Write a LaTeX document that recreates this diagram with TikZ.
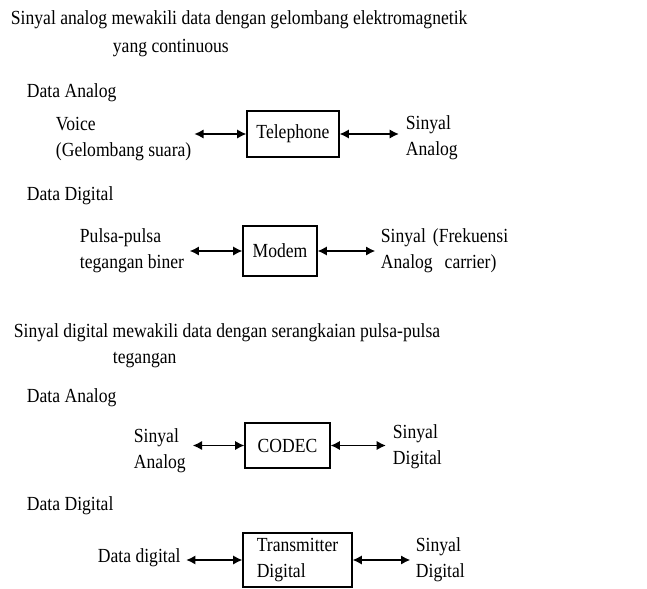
\documentclass[tikz,border=0pt]{standalone}
\usepackage{fontspec}
\setmainfont[FakeStretch=0.88]{Liberation Serif}
\usetikzlibrary{arrows.meta}

\begin{document}
\begin{tikzpicture}[x=0.75pt, y=-0.75pt,
        every node/.style={font=\fontsize{15}{19.5}\selectfont},
        txt/.style={anchor=base west, inner sep=2pt, align=left},
        blok/.style={draw, line width=0.8pt, inner sep=0pt},
        link/.style={{Latex[length=7pt,width=7pt]}-{Latex[length=7pt,width=7pt]}, line width=1.3pt}]
            \useasboundingbox (0,0) rectangle (647,589);

            % sinyal analog
            \node[txt] (judulA) at (8,25) {Sinyal analog mewakili data dengan gelombang elektromagnetik};
            \node[txt] (judulAb) at (110,52) {yang continuous};

            \node[txt] (analogA) at (24,97) {Data Analog};
            % base of a two-line text = its last line
            \node[txt] (voice) at (53,156) {Voice\\(Gelombang suara)};
            \node[blok, minimum width=69pt, minimum height=34.5pt] (telephone) at (293,134) {Telephone};
            \node[txt] (sinyalA) at (403,155) {Sinyal\\Analog};
            \draw[link] (voice.east |- telephone.west) -- (telephone.west);
            \draw[link, shorten >=3pt] (telephone.east) -- (telephone.east -| sinyalA.west);

            \node[txt] (digitalA) at (24,200) {Data Digital};
            \node[txt] (pulsa) at (77,268) {Pulsa-pulsa\\tegangan biner};
            \node[blok, minimum width=55.5pt, minimum height=37.5pt] (modem) at (280,251) {Modem};
            \node[txt] (sinyalB) at (378,268) {Sinyal\\Analog};
            \node[txt, align=center] (frekuensi) at (430,268) {(Frekuensi\\carrier)};
            \draw[link, shorten <=2pt] (pulsa.east |- modem.west) -- (modem.west);
            \draw[link, shorten >=2pt] (modem.east) -- (modem.east -| sinyalB.west);

            % sinyal digital
            \node[txt] (judulB) at (11,337) {Sinyal digital mewakili data dengan serangkaian pulsa-pulsa};
            \node[txt] (judulBb) at (110,363) {tegangan};

            \node[txt] (analogB) at (24,402) {Data Analog};
            \node[txt] (sinyalC) at (131,468) {Sinyal\\Analog};
            \node[blok, minimum width=63.75pt, minimum height=33.75pt] (codec) at (287.5,445.5) {CODEC};
            \node[txt] (sinyalD) at (390,464) {Sinyal\\Digital};
            \draw[link, shorten <=3pt] (sinyalC.east |- codec.west) -- (codec.west);
            \draw[link, shorten >=3pt] (codec.east) -- (codec.east -| sinyalD.west);

            \node[txt] (digitalB) at (24,510) {Data Digital};
            \node[txt] (datadig) at (95,562) {Data digital};
            \node[blok, align=left, minimum width=81.75pt, minimum height=40.5pt] (transmitter) at (297.5,560) {Transmitter\\Digital};
            \node[txt] (sinyalE) at (413,577) {Sinyal\\Digital};
            \draw[link, shorten <=2pt] (datadig.east |- transmitter.west) -- (transmitter.west);
            \draw[link, shorten >=2pt] (transmitter.east) -- (transmitter.east -| sinyalE.west);
        \end{tikzpicture}
\end{document}
